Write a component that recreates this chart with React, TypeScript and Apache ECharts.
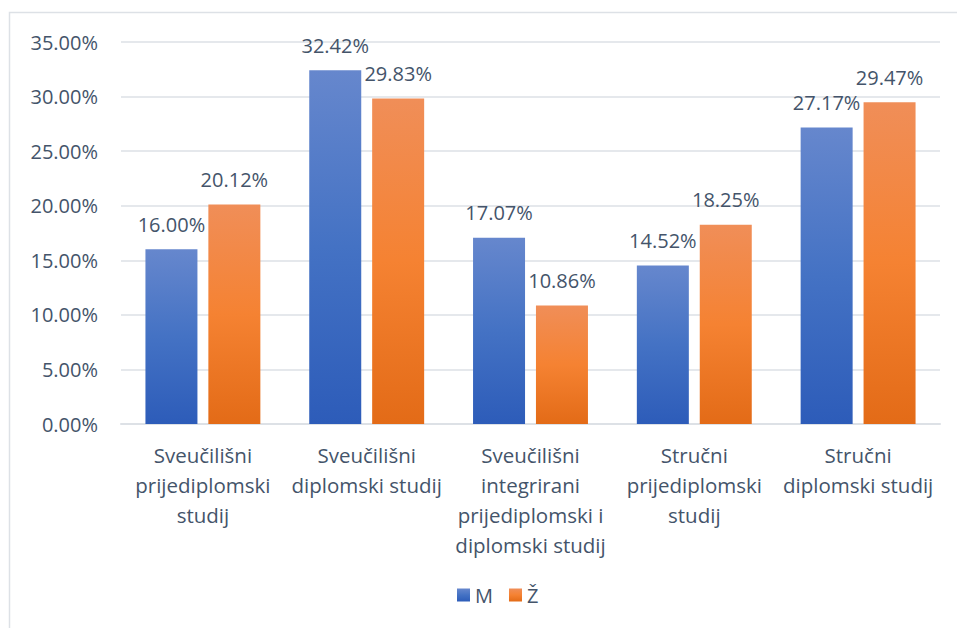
import React, { useEffect, useRef } from "react";
import * as echarts from "echarts";

const categories = [
  "Sveučilišni\nprijediplomski\nstudij",
  "Sveučilišni\ndiplomski studij",
  "Sveučilišni\nintegrirani\nprijediplomski i\ndiplomski studij",
  "Stručni\nprijediplomski\nstudij",
  "Stručni\ndiplomski studij",
];
const seriesM = [16.0, 32.42, 17.07, 14.52, 27.17];
const seriesZ = [20.12, 29.83, 10.86, 18.25, 29.47];
const seriesNames = ["M", "Ž"];

const FONT = "'Open Sans', sans-serif";
const TEXT = "#44546a";

const blueGrad = new echarts.graphic.LinearGradient(0, 0, 0, 1, [
  { offset: 0, color: "#6687cd" },
  { offset: 0.5, color: "#4472c4" },
  { offset: 1, color: "#2d5cb9" },
]);
const orangeGrad = new echarts.graphic.LinearGradient(0, 0, 0, 1, [
  { offset: 0, color: "#f08e58" },
  { offset: 0.5, color: "#f58232" },
  { offset: 1, color: "#e36b17" },
]);

export default function App() {
  const ref = useRef<HTMLDivElement>(null);
  useEffect(() => {
    if (!ref.current) return;
    const chart = echarts.init(ref.current, undefined, { renderer: "svg" });
    const label = {
      show: true,
      position: "top" as const,
      distance: 15,
      formatter: (p: any) => p.value.toFixed(2) + "%",
      fontFamily: FONT,
      fontSize: 20,
      color: TEXT,
    };
    chart.setOption({
      animation: false,
      backgroundColor: "#ffffff",
      graphic: [
        {
          type: "rect",
          shape: { x: 9.5, y: 12.5, width: 1000, height: 700 },
          style: { fill: "none", stroke: "#dde1e6", lineWidth: 1.5 },
          silent: true,
        },
      ],
      grid: { left: 121, right: 17, top: 42, bottom: 204 },
      legend: {
        data: seriesNames,
        bottom: 18,
        left: 452,
        itemWidth: 13,
        itemHeight: 13,
        itemGap: 16,
        icon: "rect",
        textStyle: { fontFamily: FONT, fontSize: 20, color: TEXT },
      },
      xAxis: {
        type: "category",
        data: categories,
        axisLine: { lineStyle: { color: "#dde1e6", width: 2 } },
        axisTick: { show: false },
        axisLabel: {
          interval: 0,
          margin: 16,
          fontFamily: FONT,
          fontSize: 20.5,
          lineHeight: 30,
          color: TEXT,
          align: "center",
        },
      },
      yAxis: {
        type: "value",
        min: 0,
        max: 35,
        interval: 5,
        axisLine: { show: false },
        axisTick: { show: false },
        splitLine: { lineStyle: { color: "#dde1e6", width: 1.5 } },
        axisLabel: {
          margin: 23,
          fontFamily: FONT,
          fontSize: 20,
          color: TEXT,
          formatter: (v: number) => v.toFixed(2) + "%",
        },
      },
      series: [
        {
          name: seriesNames[0],
          type: "bar",
          data: seriesM,
          barWidth: 52,
          barGap: "21%",
          itemStyle: { color: blueGrad },
          label,
        },
        {
          name: seriesNames[1],
          type: "bar",
          data: seriesZ,
          barWidth: 52,
          barGap: "21%",
          itemStyle: { color: orangeGrad },
          label,
        },
      ],
    });
    return () => chart.dispose();
  }, []);
  return (
    <div
      ref={ref}
      style={{ position: "fixed", left: 0, top: 0, width: 957, height: 628 }}
    />
  );
}
